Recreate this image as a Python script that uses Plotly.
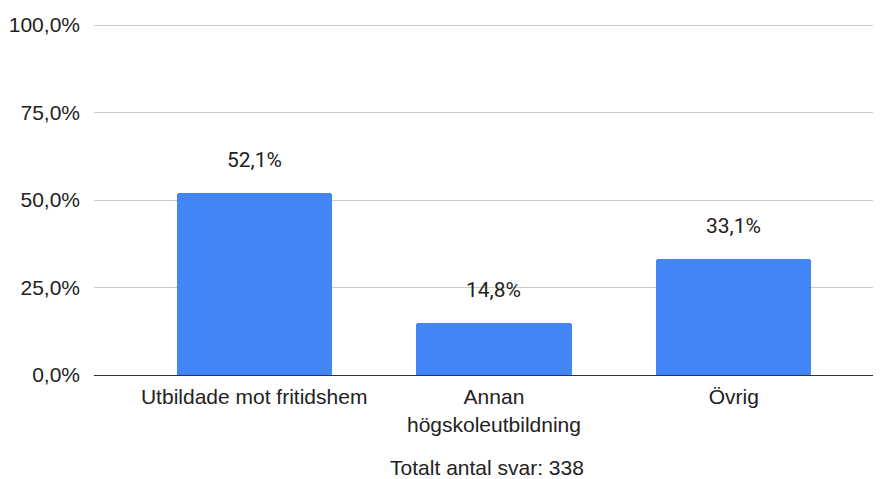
"""Andel svar per utbildningsbakgrund - stapeldiagram."""
import plotly.graph_objects as go

categories = ["Utbildade mot fritidshem", "Annan<br>högskoleutbildning", "Övrig"]
values = [52.1, 14.8, 33.1]
bar_labels = ["52,1%", "14,8%", "33,1%"]
tick_vals = [0, 25, 50, 75, 100]
tick_text = ["0,0%", "25,0%", "50,0%", "75,0%", "100,0%"]
x_title = "Totalt antal svar: 338"

BAR_COLOR = "#4285F4"
AXIS_FONT = dict(family="Liberation Sans, Arial, sans-serif", size=21, color="#222222")

fig = go.Figure(
    go.Bar(
        x=categories,
        y=values,
        marker=dict(color=BAR_COLOR, line=dict(width=0), cornerradius=3),
        width=0.647,
        hoverinfo="skip",
    )
)

for cat, val, lab in zip(categories, values, bar_labels):
    fig.add_annotation(
        x=cat, y=val, text=lab, showarrow=False,
        yanchor="bottom", yshift=19,
        font=dict(family="Roboto, sans-serif", size=21, color="#222222"),
    )

# the page body has an 8px margin, so the figure is a bit smaller than the window
fig.update_layout(
    width=873,
    height=471,
    margin=dict(l=86, r=1, t=16, b=104),
    plot_bgcolor="white",
    paper_bgcolor="white",
    showlegend=False,
    bargap=0,
)

fig.update_xaxes(
    range=[-0.668, 2.61],
    showgrid=False,
    showline=False,
    zeroline=False,
    tickfont=AXIS_FONT,
    ticks="outside",
    ticklen=3,
    tickcolor="white",
    title=dict(text=x_title, font=AXIS_FONT, standoff=33),
    automargin=False,
    fixedrange=True,
)

fig.update_yaxes(
    range=[0, 100.3],
    tickvals=tick_vals,
    ticktext=tick_text,
    tickfont=AXIS_FONT,
    ticklabelstandoff=13,
    showgrid=True,
    gridcolor="#cccccc",
    gridwidth=1,
    zeroline=True,
    zerolinecolor="#333333",
    zerolinewidth=1,
    showline=False,
    automargin=False,
    fixedrange=True,
)

fig.write_html("out.html")
